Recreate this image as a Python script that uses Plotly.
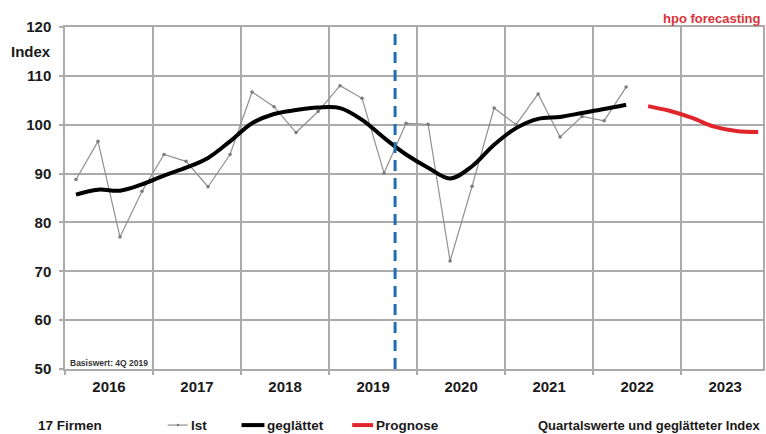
import plotly.graph_objects as go

# ---------------- data ----------------
years = [2016, 2017, 2018, 2019, 2020, 2021, 2022, 2023]
year_labels = ["2016", "2017", "2018", "2019", "2020", "2021", "2022", "2023"]

ist = [88.8, 96.6, 77.0, 86.4,
       93.9, 92.5, 87.3, 93.9,
       106.7, 103.7, 98.4, 102.7,
       108.0, 105.4, 90.1, 100.3,
       100.1, 72.1, 87.4, 103.4,
       100.0, 106.3, 97.5, 101.7,
       100.8, 107.7]

geglaettet = [85.7, 86.7, 86.5, 87.8,
              89.6, 91.2, 93.2, 96.6,
              100.3, 102.2, 103.0, 103.5,
              103.4, 101.0, 97.3, 93.9,
              91.2, 89.0, 91.5, 95.9,
              99.3, 101.2, 101.6, 102.4,
              103.2, 104.1]

prognose = [103.8, 102.8, 101.4, 99.6, 98.7, 98.5]

basis_quarter_x = 2019.75   # Basiswert 4Q 2019 marker line

y_ticks = [50, 60, 70, 80, 90, 100, 110, 120]

# quarter positions (centre of each quarter)
def qpos(start_year, n, start_q=1):
    xs = []
    y, q = start_year, start_q
    for _ in range(n):
        xs.append(y + (q - 0.5) / 4)
        q += 1
        if q > 4:
            q = 1
            y += 1
    return xs

x_hist = qpos(2016, len(ist))
x_prog = qpos(2022, len(prognose), start_q=3)

FONT = "Liberation Sans, Arial, sans-serif"
GRID = "#ababab"
RED = "#e0262b"

fig = go.Figure()

fig.add_trace(go.Scatter(
    x=x_hist, y=ist, mode="lines+markers", name="Ist",
    line=dict(color="#909090", width=1.2),
    marker=dict(size=3.5, color="#7a7a7a"),
    showlegend=False,
))
fig.add_trace(go.Scatter(
    x=x_hist, y=geglaettet, mode="lines", name="geglättet",
    line=dict(color="#000000", width=4, shape="spline", smoothing=1.0),
    showlegend=False,
))
fig.add_trace(go.Scatter(
    x=x_prog, y=prognose, mode="lines", name="Prognose",
    line=dict(color=RED, width=4, shape="spline", smoothing=1.0),
    showlegend=False,
))

fig.add_shape(type="line", xref="x", yref="paper",
              x0=basis_quarter_x, x1=basis_quarter_x, y0=0, y1=1,
              line=dict(color="#1f6db3", width=3, dash="11px,7px"))

fig.update_layout(
    width=766, height=434,
    margin=dict(l=65, r=1, t=27, b=65),
    paper_bgcolor="white", plot_bgcolor="white",
    font=dict(family=FONT, color="#1a1a1a"),
    xaxis=dict(
        range=[2016, 2023.93],
        tickmode="array",
        tickvals=[y + 0.5 for y in years],
        ticktext=year_labels,
        ticks="",
        showgrid=False,
        tickfont=dict(size=15, family=FONT, weight="bold", color="#1a1a1a"),
        ticklabelstandoff=3,
        minor=dict(tickmode="array", tickvals=years, showgrid=True,
                   gridcolor=GRID, gridwidth=1.5, ticks="outside",
                   ticklen=4, tickcolor=GRID, tickwidth=1.5),
        showline=True, linecolor=GRID, linewidth=1.5, mirror=True,
        zeroline=False, fixedrange=True,
    ),
    yaxis=dict(
        range=[50, 120],
        tickmode="array",
        tickvals=y_ticks,
        ticktext=[str(v) for v in y_ticks],
        showgrid=True, gridcolor=GRID, gridwidth=1.5,
        ticks="outside", ticklen=4, tickcolor=GRID, tickwidth=1.5,
        tickfont=dict(size=15, family=FONT, weight="bold", color="#1a1a1a"),
        ticklabelstandoff=5,
        showline=True, linecolor=GRID, linewidth=1.5, mirror=True,
        zeroline=False, fixedrange=True,
    ),
)

# text annotations
fig.add_annotation(xref="paper", yref="paper", x=-0.017, y=0.9286,
                   text="<b>Index</b>", showarrow=False, xanchor="right",
                   yanchor="middle", font=dict(size=15, family=FONT, color="#1a1a1a"))
fig.add_annotation(xref="paper", yref="paper", x=1.0, y=1.0, yshift=9,
                   text="<b>hpo forecasting</b>", showarrow=False,
                   xanchor="right", yanchor="middle",
                   font=dict(size=13, family=FONT, color="#d9333a"))
fig.add_annotation(xref="paper", yref="paper", x=0.004, y=0.0, yshift=6,
                   text="<b>Basiswert: 4Q 2019</b>", showarrow=False,
                   xanchor="left", yanchor="middle",
                   font=dict(size=8.5, family=FONT, color="#333333"))

# legend row (manual)
LEG_Y = -0.164  # paper y for legend row
def px2paper_x(px):
    return (px - 65) / 700.0

fig.add_annotation(xref="paper", yref="paper", x=px2paper_x(36), y=LEG_Y,
                   text="<b>17 Firmen</b>", showarrow=False, xanchor="left",
                   yanchor="middle", font=dict(size=13.5, family=FONT, color="#1a1a1a"))

legend_items = [
    ("Ist", 168, 188, "#909090", 1.2),
    ("geglättet", 242, 265, "#000000", 4),
    ("Prognose", 353, 374, RED, 4),
]
for label, x0, x1, col, w in legend_items:
    fig.add_shape(type="line", xref="paper", yref="paper",
                  x0=px2paper_x(x0), x1=px2paper_x(x1), y0=LEG_Y, y1=LEG_Y,
                  line=dict(color=col, width=w))
    fig.add_annotation(xref="paper", yref="paper", x=px2paper_x(x1 + 1), y=LEG_Y,
                       text="<b>" + label + "</b>", showarrow=False,
                       xanchor="left", yanchor="middle",
                       font=dict(size=13.5, family=FONT, color="#1a1a1a"))
fig.add_shape(type="circle", xref="paper", yref="paper",
              x0=px2paper_x(177), x1=px2paper_x(179.5),
              y0=LEG_Y - 1.25 / 342, y1=LEG_Y + 1.25 / 342,
              fillcolor="#7a7a7a", line=dict(width=0))

fig.add_annotation(xref="paper", yref="paper", x=1.0, y=LEG_Y,
                   text="<b>Quartalswerte und geglätteter Index</b>", showarrow=False,
                   xanchor="right", yanchor="middle",
                   font=dict(size=13, family=FONT, color="#1a1a1a"))

fig.write_html(
    "out.html",
    config={"displayModeBar": False},
    post_script="document.body.style.margin='0';document.body.style.overflow='hidden';",
)
